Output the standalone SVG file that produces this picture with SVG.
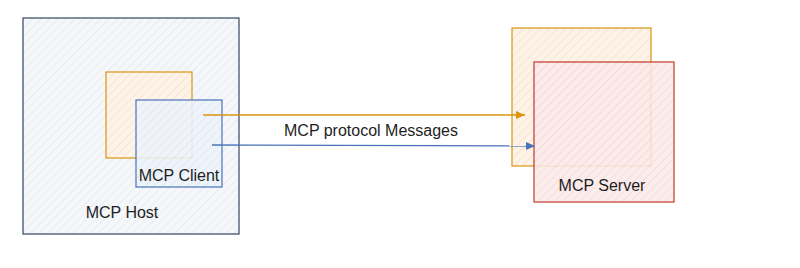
<svg xmlns="http://www.w3.org/2000/svg" width="800" height="268" viewBox="0 0 800 268">
<style>
.t{font-family:"Liberation Sans",Arial,sans-serif;font-size:16px;fill:#1e1e1e;text-anchor:middle;dominant-baseline:central}
.box{stroke-width:1.2}
.c{fill:none;stroke-width:1.4}
</style>
<defs>
<pattern id="hg" width="6" height="6" patternUnits="userSpaceOnUse" patternTransform="rotate(45)"><rect width="6" height="6" fill="#f5f7fa"/><line x1="0" y1="0" x2="0" y2="6" stroke="#dfe5ee" stroke-width="1.2"/></pattern>
<pattern id="ho" width="6" height="6" patternUnits="userSpaceOnUse" patternTransform="rotate(45)"><rect width="6" height="6" fill="#fdf3e8"/><line x1="0" y1="0" x2="0" y2="6" stroke="#f6dcc0" stroke-width="1.2"/></pattern>
<pattern id="hb" width="6" height="6" patternUnits="userSpaceOnUse" patternTransform="rotate(45)"><rect width="6" height="6" fill="#eef4fb"/><line x1="0" y1="0" x2="0" y2="6" stroke="#d4e3f5" stroke-width="1.2"/></pattern>
<pattern id="hr" width="6" height="6" patternUnits="userSpaceOnUse" patternTransform="rotate(45)"><rect width="6" height="6" fill="#fbeaea"/><line x1="0" y1="0" x2="0" y2="6" stroke="#f3c9c9" stroke-width="1.2"/></pattern>
<marker id="ao" markerWidth="10" markerHeight="8" refX="9" refY="4" orient="auto" markerUnits="userSpaceOnUse"><path d="M0,0 L9,4 L0,8 Z" fill="#d9960f"/></marker>
<marker id="ab" markerWidth="10" markerHeight="8" refX="9" refY="4" orient="auto" markerUnits="userSpaceOnUse"><path d="M0,0 L9,4 L0,8 Z" fill="#4a72b8"/></marker>
</defs>
<g id="host">
<rect class="box" x="23" y="18" width="216" height="216" fill="url(#hg)" stroke="#34475f"/>
<text class="t" x="122" y="212">MCP Host</text>
</g>
<g id="host-orange">
<rect class="box" x="106" y="72" width="86" height="86" fill="url(#ho)" stroke="#d9960f"/>
</g>
<g id="client">
<rect class="box" x="136" y="100" width="86" height="87" fill="url(#hb)" fill-opacity="0.85" stroke="#4a72b8"/>
<text class="t" x="179" y="175">MCP Client</text>
</g>
<g id="server-orange">
<rect class="box" x="512" y="28" width="139" height="138" fill="url(#ho)" stroke="#d9960f"/>
</g>
<g id="server">
<rect class="box" x="534" y="62" width="140" height="140" fill="url(#hr)" fill-opacity="0.85" stroke="#c0392b"/>
<text class="t" x="602" y="185">MCP Server</text>
</g>
<g id="connectors">
<line class="c" x1="203" y1="115" x2="525" y2="115" stroke="#d9960f" marker-end="url(#ao)"/>
<line class="c" x1="212" y1="145" x2="535" y2="146" stroke="#4a72b8" marker-end="url(#ab)"/>
<text class="t" x="371" y="130">MCP protocol Messages</text>
</g>
</svg>
